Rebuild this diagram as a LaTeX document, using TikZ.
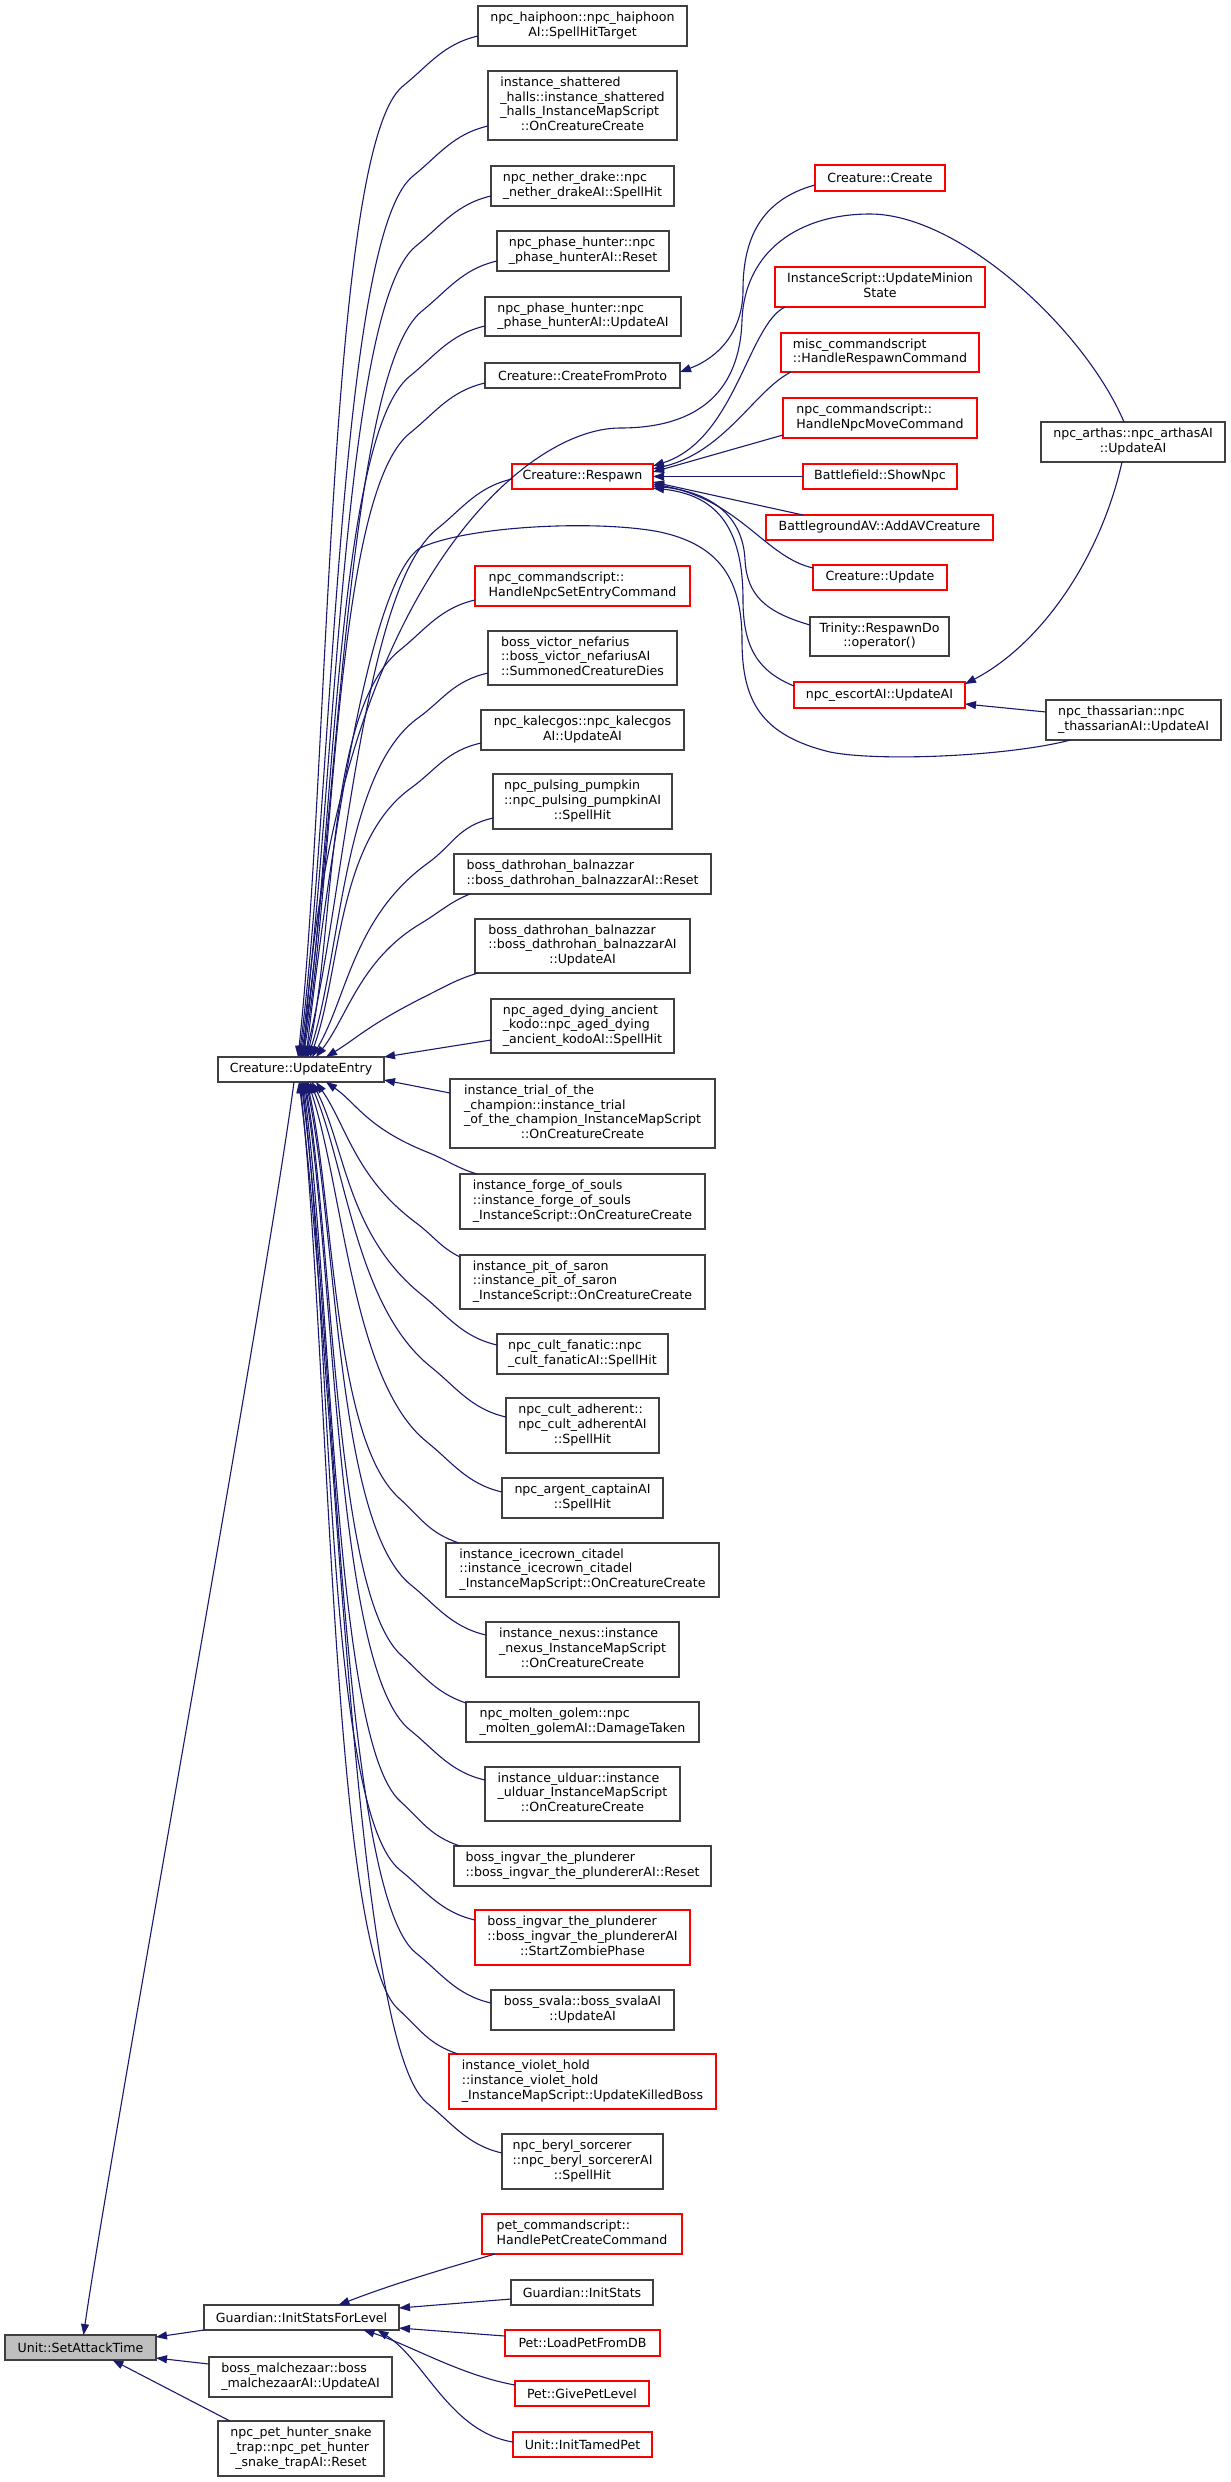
\documentclass[tikz,border=0pt]{standalone}
\usepackage{fontspec}
\setmainfont{DejaVu Sans}
\usetikzlibrary{arrows.meta,calc}
\definecolor{midblue}{HTML}{191970}
\definecolor{selgray}{HTML}{BFBFBF}
\definecolor{bord}{HTML}{404040}
\newcommand{\nodefnt}{\fontsize{12.6}{14.6}\selectfont\setbox\strutbox\hbox{\vrule height 10.2pt depth 4.4pt width 0pt}}
\newcommand{\ml}[2]{\begin{tabular}{@{}l@{}}#1\\\multicolumn{1}{@{}c@{}}{#2}\end{tabular}}
\newcommand{\nd}[7]{\node[#6, minimum width={(#4)-(#2)}, minimum height={(#5)-(#3)}] (#1) at ({((#2)+(#4))/2},{((#3)+(#5))/2}) {#7};}
% #1 start, #2 end, #3 first control offset, #4 bend offset, #5 back-tangent offset at bend
\newcommand{\fan}[5]{\path #1 coordinate (fs) ++#4 coordinate (fb) ++#5 coordinate (fbb); \path #2 coordinate (fe);
 \draw[conn] #1 .. controls ($(fs)+#3$) and (fbb) .. (fb) .. controls ($(fb)!-3!(fbb)$) and ($(fe)!0.3!(fb)$) .. #2;}
\tikzset{
 box/.style={draw=bord, line width=1.2pt, inner sep=0pt, outer sep=0pt, font=\nodefnt, fill=white},
 blk/.style={box},
 rd/.style={box, draw=red},
 sel/.style={box, fill=selgray},
 conn/.style={draw=midblue, line width=1.1pt, -{Triangle[length=11pt,width=8pt]}}
}
\begin{document}
\begin{tikzpicture}[x=1pt,y=-1pt]
\fill[white] (0,0) rectangle (1231,2482);
\useasboundingbox (0,0) rectangle (1231,2482);
% column 0/1
\nd{SAT}{5}{2335}{156}{2360}{sel}{Unit::SetAttackTime}
\nd{UE}{218}{1057}{384}{1082}{blk}{Creature::UpdateEntry}
\nd{GISL}{204}{2305}{399}{2330}{blk}{Guardian::InitStatsForLevel}
\nd{MAL}{209}{2357}{392}{2397}{blk}{\ml{boss\_malchezaar::boss}{\_malchezaarAI::UpdateAI}}
\nd{SNK}{218}{2421}{384}{2476}{blk}{\ml{npc\_pet\_hunter\_snake\\\_trap::npc\_pet\_hunter}{\_snake\_trapAI::Reset}}
% column 2
\nd{HAI}{478}{6}{687}{46}{blk}{\ml{npc\_haiphoon::npc\_haiphoon}{AI::SpellHitTarget}}
\nd{SHA}{488}{71}{677}{140}{blk}{\ml{instance\_shattered\\\_halls::instance\_shattered\\\_halls\_InstanceMapScript}{::OnCreatureCreate}}
\nd{NDR}{491}{166}{674}{206}{blk}{\ml{npc\_nether\_drake::npc}{\_nether\_drakeAI::SpellHit}}
\nd{PHR}{497}{231}{669}{271}{blk}{\ml{npc\_phase\_hunter::npc}{\_phase\_hunterAI::Reset}}
\nd{PHU}{485}{297}{681}{336}{blk}{\ml{npc\_phase\_hunter::npc}{\_phase\_hunterAI::UpdateAI}}
\nd{CFP}{485}{363}{680}{388}{blk}{Creature::CreateFromProto}
\nd{RSP}{512}{464}{653}{489}{rd}{Creature::Respawn}
\nd{NSE}{475}{566}{690}{606}{rd}{\ml{npc\_commandscript::}{HandleNpcSetEntryCommand}}
\nd{VIC}{488}{631}{677}{685}{blk}{\ml{boss\_victor\_nefarius\\::boss\_victor\_nefariusAI}{::SummonedCreatureDies}}
\nd{KAL}{481}{710}{684}{750}{blk}{\ml{npc\_kalecgos::npc\_kalecgos}{AI::UpdateAI}}
\nd{PUM}{493}{774}{672}{829}{blk}{\ml{npc\_pulsing\_pumpkin\\::npc\_pulsing\_pumpkinAI}{::SpellHit}}
\nd{DAR}{454}{854}{711}{894}{blk}{\ml{boss\_dathrohan\_balnazzar}{::boss\_dathrohan\_balnazzarAI::Reset}}
\nd{DAU}{475}{919}{690}{973}{blk}{\ml{boss\_dathrohan\_balnazzar\\::boss\_dathrohan\_balnazzarAI}{::UpdateAI}}
\nd{KOD}{491}{999}{674}{1053}{blk}{\ml{npc\_aged\_dying\_ancient\\\_kodo::npc\_aged\_dying}{\_ancient\_kodoAI::SpellHit}}
\nd{TRI}{450}{1079}{715}{1148}{blk}{\ml{instance\_trial\_of\_the\\\_champion::instance\_trial\\\_of\_the\_champion\_InstanceMapScript}{::OnCreatureCreate}}
\nd{FOR}{460}{1174}{705}{1229}{blk}{\ml{instance\_forge\_of\_souls\\::instance\_forge\_of\_souls}{\_InstanceScript::OnCreatureCreate}}
\nd{PIT}{460}{1255}{705}{1309}{blk}{\ml{instance\_pit\_of\_saron\\::instance\_pit\_of\_saron}{\_InstanceScript::OnCreatureCreate}}
\nd{FAN}{497}{1334}{668}{1374}{blk}{\ml{npc\_cult\_fanatic::npc}{\_cult\_fanaticAI::SpellHit}}
\nd{ADH}{506}{1398}{659}{1453}{blk}{\ml{npc\_cult\_adherent::\\npc\_cult\_adherentAI}{::SpellHit}}
\nd{ARG}{502}{1478}{663}{1518}{blk}{\ml{npc\_argent\_captainAI}{::SpellHit}}
\nd{ICC}{446}{1543}{719}{1597}{blk}{\ml{instance\_icecrown\_citadel\\::instance\_icecrown\_citadel}{\_InstanceMapScript::OnCreatureCreate}}
\nd{NEX}{486}{1622}{679}{1677}{blk}{\ml{instance\_nexus::instance\\\_nexus\_InstanceMapScript}{::OnCreatureCreate}}
\nd{GOL}{466}{1702}{699}{1742}{blk}{\ml{npc\_molten\_golem::npc}{\_molten\_golemAI::DamageTaken}}
\nd{ULD}{485}{1767}{680}{1821}{blk}{\ml{instance\_ulduar::instance\\\_ulduar\_InstanceMapScript}{::OnCreatureCreate}}
\nd{IGR}{454}{1846}{711}{1886}{blk}{\ml{boss\_ingvar\_the\_plunderer}{::boss\_ingvar\_the\_plundererAI::Reset}}
\nd{IGZ}{475}{1910}{690}{1965}{rd}{\ml{boss\_ingvar\_the\_plunderer\\::boss\_ingvar\_the\_plundererAI}{::StartZombiePhase}}
\nd{SVA}{491}{1990}{674}{2030}{blk}{\ml{boss\_svala::boss\_svalaAI}{::UpdateAI}}
\nd{VIO}{449}{2054}{716}{2109}{rd}{\ml{instance\_violet\_hold\\::instance\_violet\_hold}{\_InstanceMapScript::UpdateKilledBoss}}
\nd{BER}{502}{2134}{663}{2189}{blk}{\ml{npc\_beryl\_sorcerer\\::npc\_beryl\_sorcererAI}{::SpellHit}}
\nd{PETC}{482}{2214}{682}{2254}{rd}{\ml{pet\_commandscript::}{HandlePetCreateCommand}}
\nd{GIS}{511}{2280}{653}{2305}{blk}{Guardian::InitStats}
\nd{LPD}{505}{2330}{660}{2356}{rd}{Pet::LoadPetFromDB}
\nd{GPL}{515}{2381}{649}{2406}{rd}{Pet::GivePetLevel}
\nd{ITP}{513}{2432}{652}{2457}{rd}{Unit::InitTamedPet}
% column 3
\nd{CRC}{815}{165}{945}{191}{rd}{Creature::Create}
\nd{IUM}{775}{267}{985}{307}{rd}{\ml{InstanceScript::UpdateMinion}{State}}
\nd{MSC}{781}{333}{979}{372}{rd}{\ml{misc\_commandscript}{::HandleRespawnCommand}}
\nd{NMV}{783}{398}{977}{438}{rd}{\ml{npc\_commandscript::}{HandleNpcMoveCommand}}
\nd{BSN}{803}{464}{957}{489}{rd}{Battlefield::ShowNpc}
\nd{BAV}{766}{515}{993}{540}{rd}{BattlegroundAV::AddAVCreature}
\nd{CUP}{813}{565}{947}{590}{rd}{Creature::Update}
\nd{TRD}{810}{617}{949}{656}{blk}{\ml{Trinity::RespawnDo}{::operator()}}
\nd{ESC}{794}{682}{965}{708}{rd}{npc\_escortAI::UpdateAI}
% column 4
\nd{ART}{1041}{422}{1225}{462}{blk}{\ml{npc\_arthas::npc\_arthasAI}{::UpdateAI}}
\nd{THS}{1046}{700}{1221}{740}{blk}{\ml{npc\_thassarian::npc}{\_thassarianAI::UpdateAI}}
% edges into Creature::UpdateEntry (top)
\fan{([yshift=10pt]HAI.south west)}{([xshift=-3pt]UE.north)}{(-35,8)}{(-75,50)}{(25,-20)}
\fan{([yshift=14pt]SHA.south west)}{([xshift=-2pt]UE.north)}{(-35,8)}{(-75,50)}{(25,-20)}
\fan{([yshift=10pt]NDR.south west)}{([xshift=-1pt]UE.north)}{(-35,8)}{(-75,50)}{(25,-20)}
\fan{([yshift=10pt]PHR.south west)}{(UE.north)}{(-35,8)}{(-75,50)}{(25,-20)}
\fan{([yshift=10pt]PHU.south west)}{([xshift=1pt]UE.north)}{(-35,8)}{(-75,50)}{(25,-20)}
\fan{([yshift=5pt]CFP.south west)}{([xshift=2pt]UE.north)}{(-35,8)}{(-75,50)}{(25,-20)}
\fan{([yshift=10pt]RSP.south west)}{([xshift=4pt]UE.north)}{(-35,8)}{(-75,50)}{(25,-20)}
\fan{([yshift=6pt]NSE.south west)}{([xshift=6pt]UE.north)}{(-35,8)}{(-75,50)}{(25,-20)}
\fan{([yshift=12pt]VIC.south west)}{([xshift=7pt]UE.north)}{(-35,8)}{(-70,45)}{(25,-18)}
\fan{([yshift=7pt]KAL.south west)}{([xshift=9pt]UE.north)}{(-35,8)}{(-70,45)}{(25,-18)}
\fan{([yshift=11pt]PUM.south west)}{([xshift=11pt]UE.north)}{(-35,8)}{(-65,45)}{(25,-18)}
\fan{([xshift=16pt]DAR.south west)}{([xshift=15pt]UE.north)}{(-20,8)}{(-50,30)}{(20,-12)}
\fan{([xshift=3pt]DAU.south west)}{([xshift=25pt]UE.north)}{(-20,6)}{(-50,22)}{(20,-10)}
\draw[conn] ([yshift=13pt]KOD.south west) -- (UE.north east);
\draw[conn] ([yshift=-14pt]TRI.north west) -- ([yshift=2pt]UE.south east);
% edges into Creature::UpdateEntry (bottom)
\fan{([xshift=17pt]FOR.north west)}{([xshift=25pt]UE.south)}{(-20,-6)}{(-50,-22)}{(20,8)}
\fan{([yshift=-2pt]PIT.north west)}{([xshift=15pt]UE.south)}{(-20,-10)}{(-45,-35)}{(20,15)}
\fan{([yshift=-11pt]FAN.north west)}{([xshift=11pt]UE.south)}{(-35,-8)}{(-75,-50)}{(25,20)}
\fan{([yshift=-19pt]ADH.north west)}{([xshift=9pt]UE.south)}{(-35,-8)}{(-75,-50)}{(25,20)}
\fan{([yshift=-14pt]ARG.north west)}{([xshift=7pt]UE.south)}{(-35,-8)}{(-75,-50)}{(25,20)}
\fan{([xshift=13pt]ICC.north west)}{([xshift=6pt]UE.south)}{(-30,-10)}{(-60,-45)}{(22,20)}
\fan{([yshift=-13pt]NEX.north west)}{([xshift=5pt]UE.south)}{(-35,-8)}{(-75,-50)}{(25,20)}
\fan{([yshift=-1pt]GOL.north west)}{([xshift=4pt]UE.south)}{(-30,-10)}{(-65,-48)}{(22,20)}
\fan{([yshift=-13pt]ULD.north west)}{([xshift=3pt]UE.south)}{(-35,-8)}{(-75,-50)}{(25,20)}
\fan{([xshift=6pt]IGR.north west)}{([xshift=2pt]UE.south)}{(-30,-10)}{(-60,-45)}{(22,20)}
\fan{([yshift=-10pt]IGZ.north west)}{([xshift=1pt]UE.south)}{(-35,-8)}{(-75,-50)}{(25,20)}
\fan{([yshift=-13pt]SVA.north west)}{(UE.south)}{(-35,-8)}{(-75,-50)}{(25,20)}
\fan{([xshift=9pt]VIO.north west)}{([xshift=-1pt]UE.south)}{(-30,-10)}{(-60,-45)}{(22,20)}
\fan{([yshift=-19pt]BER.north west)}{([xshift=-2pt]UE.south)}{(-35,-8)}{(-75,-50)}{(25,20)}
% long edges from column 4 to Creature::UpdateEntry
\draw[conn] ([xshift=-9pt]ART.north) .. controls (1085,330) and (960,214) .. (870,214)
  .. controls (800,214) and (745,250) .. (742,320)
  .. controls (740,390) and (700,428) .. (620,428)
  .. controls (520,428) and (330,600) .. ([xshift=3pt]UE.north);
\draw[conn] ([xshift=-63pt]THS.south) .. controls (1010,756) and (880,762) .. (830,752)
  .. controls (760,735) and (742,700) .. (742,640)
  .. controls (742,580) and (720,545) .. (660,532)
  .. controls (600,520) and (470,525) .. (420,548)
  .. controls (370,580) and (330,850) .. ([xshift=5pt]UE.north);
% edges into Creature::CreateFromProto
\draw[conn] ([yshift=6pt]CRC.south west) .. controls (760,200) and (743,240) .. (743,290)
  .. controls (743,330) and (720,357) .. ([yshift=-9pt]CFP.north east);
% edges into Creature::Respawn
\draw[conn] ([xshift=10pt]IUM.south west) .. controls (748,325) and (735,440) .. ([yshift=-2pt]RSP.north east);
\draw[conn] ([xshift=10pt]MSC.south west) .. controls (755,390) and (725,452) .. ([yshift=-5pt]RSP.north east);
\draw[conn] ([yshift=3pt]NMV.south west) -- ([yshift=-8pt]RSP.north east);
\draw[conn] (BSN.west) -- (RSP.east);
\draw[conn] ([xshift=37pt]BAV.north west) -- ([yshift=7pt]RSP.south east);
\draw[conn] ([yshift=-3pt]CUP.north west) .. controls (765,557) and (740,500) .. ([yshift=5pt]RSP.south east);
\draw[conn] ([yshift=-8pt]TRD.north west) .. controls (765,612) and (747,595) .. (745,560)
  .. controls (743,515) and (710,492) .. ([yshift=3pt]RSP.south east);
\draw[conn] ([yshift=-4pt]ESC.north west) .. controls (760,672) and (743,650) .. (743,600)
  .. controls (743,525) and (715,495) .. ([yshift=1pt]RSP.south east);
% edges into npc_escortAI::UpdateAI
\draw[conn] ([xshift=-11pt]ART.south) .. controls (1100,560) and (1040,645) .. ([yshift=-2pt]ESC.north east);
\draw[conn] ([yshift=-12pt]THS.north west) -- ([yshift=4pt]ESC.south east);
% edges into Guardian::InitStatsForLevel
\draw[conn] ([xshift=13pt]PETC.south west) .. controls (440,2270) and (390,2285) .. ([xshift=37pt]GISL.north);
\draw[conn] ([yshift=-19pt]GIS.north west) -- ([yshift=-3pt]GISL.north east);
\draw[conn] ([yshift=-6pt]LPD.north west) -- ([yshift=2pt]GISL.south east);
\draw[conn] ([yshift=-4pt]GPL.north west) .. controls (460,2375) and (410,2345) .. ([xshift=62pt]GISL.south);
\draw[conn] ([yshift=-10pt]ITP.north west) .. controls (450,2432) and (425,2360) .. ([xshift=76pt]GISL.south);
% edges into Unit::SetAttackTime
\draw[conn] ([xshift=-7pt]UE.south) .. controls (265,1300) and (110,2150) .. ([xshift=3pt]SAT.north);
\draw[conn] (GISL.south west) -- ([yshift=-2pt]SAT.north east);
\draw[conn] ([yshift=-7pt]MAL.north west) -- ([yshift=2pt]SAT.south east);
\draw[conn] ([xshift=12pt]SNK.north west) -- ([xshift=32pt]SAT.south);
\end{tikzpicture}
\end{document}
